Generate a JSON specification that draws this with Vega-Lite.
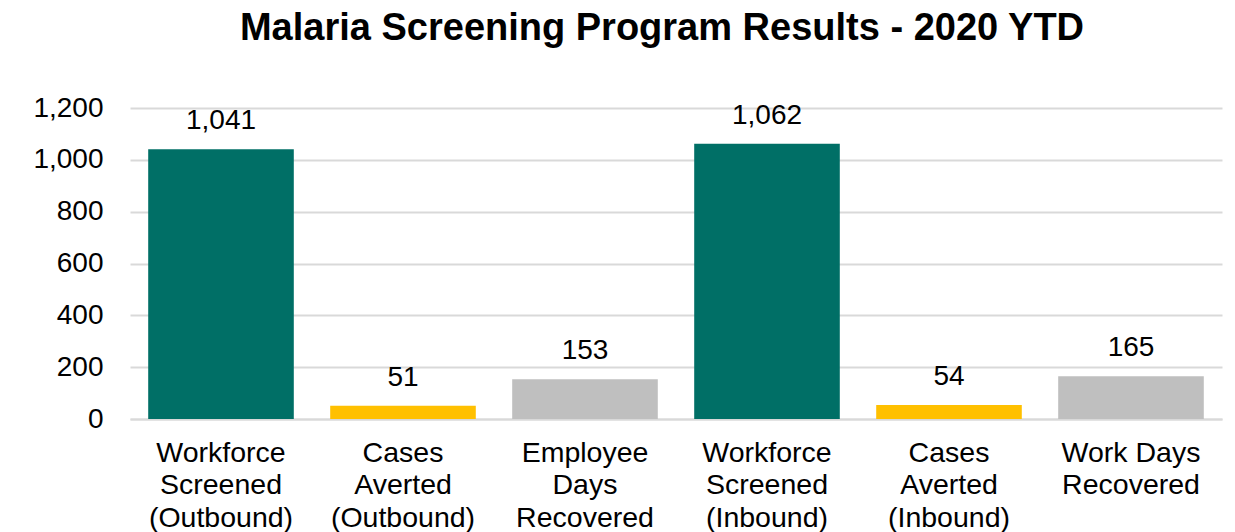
{
  "$schema": "https://vega.github.io/schema/vega-lite/v6.json",
  "width": 1092,
  "height": 311,
  "autosize": {"type": "none"},
  "padding": {"left": 130, "top": 108, "right": 13, "bottom": 113},
  "background": "white",
  "config": {"view": {"stroke": null}, "font": "Liberation Sans"},
  "title": {
    "text": "Malaria Screening Program Results - 2020 YTD",
    "fontSize": 38,
    "fontWeight": "bold",
    "font": "Liberation Sans",
    "color": "#000000",
    "anchor": "middle",
    "offset": 46,
    "dx": -14
  },
  "data": {
    "values": [
      {"metric": "Workforce\nScreened\n(Outbound)", "value": 1041, "kind": "Workforce"},
      {"metric": "Cases\nAverted\n(Outbound)", "value": 51, "kind": "Cases"},
      {"metric": "Employee\nDays\nRecovered", "value": 153, "kind": "Days"},
      {"metric": "Workforce\nScreened\n(Inbound)", "value": 1062, "kind": "Workforce"},
      {"metric": "Cases\nAverted\n(Inbound)", "value": 54, "kind": "Cases"},
      {"metric": "Work Days\nRecovered", "value": 165, "kind": "Days"}
    ]
  },
  "encoding": {
    "x": {
      "field": "metric",
      "type": "nominal",
      "sort": null,
      "scale": {"paddingInner": 0.2, "paddingOuter": 0.1},
      "axis": {
        "title": null,
        "labelAngle": 0,
        "labelExpr": "split(datum.value, '\\n')",
        "labelFontSize": 28.5,
        "labelColor": "#000000",
        "labelLineHeight": 32.5,
        "labelPadding": 19,
        "labelBaseline": "top",
        "ticks": false,
        "domainColor": "#D9D9D9",
        "domainWidth": 2,
        "grid": false
      }
    },
    "y": {
      "field": "value",
      "type": "quantitative",
      "scale": {"domain": [0, 1200]},
      "axis": {
        "title": null,
        "values": [0, 200, 400, 600, 800, 1000, 1200],
        "format": ",.0f",
        "labelFontSize": 28,
        "labelColor": "#000000",
        "labelPadding": 27,
        "ticks": false,
        "domain": false,
        "gridColor": "#D9D9D9",
        "gridWidth": 2
      }
    }
  },
  "layer": [
    {
      "mark": {"type": "bar"},
      "encoding": {
        "color": {
          "field": "kind",
          "type": "nominal",
          "scale": {"domain": ["Workforce", "Cases", "Days"], "range": ["#006F66", "#FFC000", "#BFBFBF"]},
          "legend": null
        }
      }
    },
    {
      "mark": {"type": "text", "dy": -28, "fontSize": 28, "color": "#000000", "baseline": "middle"},
      "encoding": {
        "text": {"field": "value", "type": "quantitative", "format": ",.0f"}
      }
    }
  ]
}
